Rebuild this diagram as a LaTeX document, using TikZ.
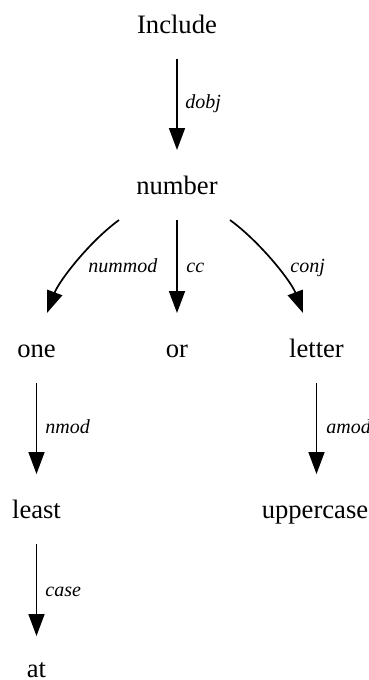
\documentclass[tikz,border=0pt]{standalone}
\usepackage{fontspec}
\setmainfont{Liberation Serif}
\usetikzlibrary{arrows.meta,calc}
\begin{document}
\begin{tikzpicture}[x=0.5pt,y=-0.5pt,
  word/.style={inner sep=0pt,outer sep=0pt,minimum height=35pt,minimum width=30pt,
    text height=9pt,text depth=0pt,font=\fontsize{13.3}{16}\selectfont},
  lab/.style={inner sep=0pt,anchor=base west,font=\fontsize{10}{12}\selectfont\itshape},
  dep/.style={line width=0.85pt,-{Triangle[length=11pt,width=8pt]}}]
\useasboundingbox (0,0) rectangle (369,680);
\node[word] (include) at (177,24) {Include};
\node[word] (number) at (177,185) {number};
\node[word] (one) at (36.5,348) {one};
\node[word] (or) at (177,348) {or};
\node[word] (letter) at (316.5,348) {letter};
\node[word] (least) at (36.5,509) {least};
\node[word] (upper) at (315,509) {uppercase};
\node[word] (at) at (36.5,668) {at};
\draw[dep] (include.south) -- (number.north);
\draw[dep] ($(number.south)+(-58,0)$) .. controls +(-30,22) and +(12,-32) .. ($(one.north)+(10.5,0)$);
\draw[dep] (number.south) -- (or.north);
\draw[dep] ($(number.south)+(53,0)$) .. controls +(30,22) and +(-12,-32) .. ($(letter.north)+(-13.5,0)$);
\draw[dep] (one.south) -- (least.north);
\draw[dep] (letter.south) -- (upper.north -| letter.south);
\draw[dep] (least.south) -- ([yshift=-1.5pt]at.north);
\node[lab] (l1) at (185,108) {dobj};
\node[lab] (l2) at (88,272) {nummod};
\node[lab] (l3) at (186,272) {cc};
\node[lab] (l4) at (290,272) {conj};
\node[lab] (l5) at (45,433) {nmod};
\node[lab] (l6) at (326,433) {amod};
\node[lab] (l7) at (45,596) {case};
\end{tikzpicture}
\end{document}
